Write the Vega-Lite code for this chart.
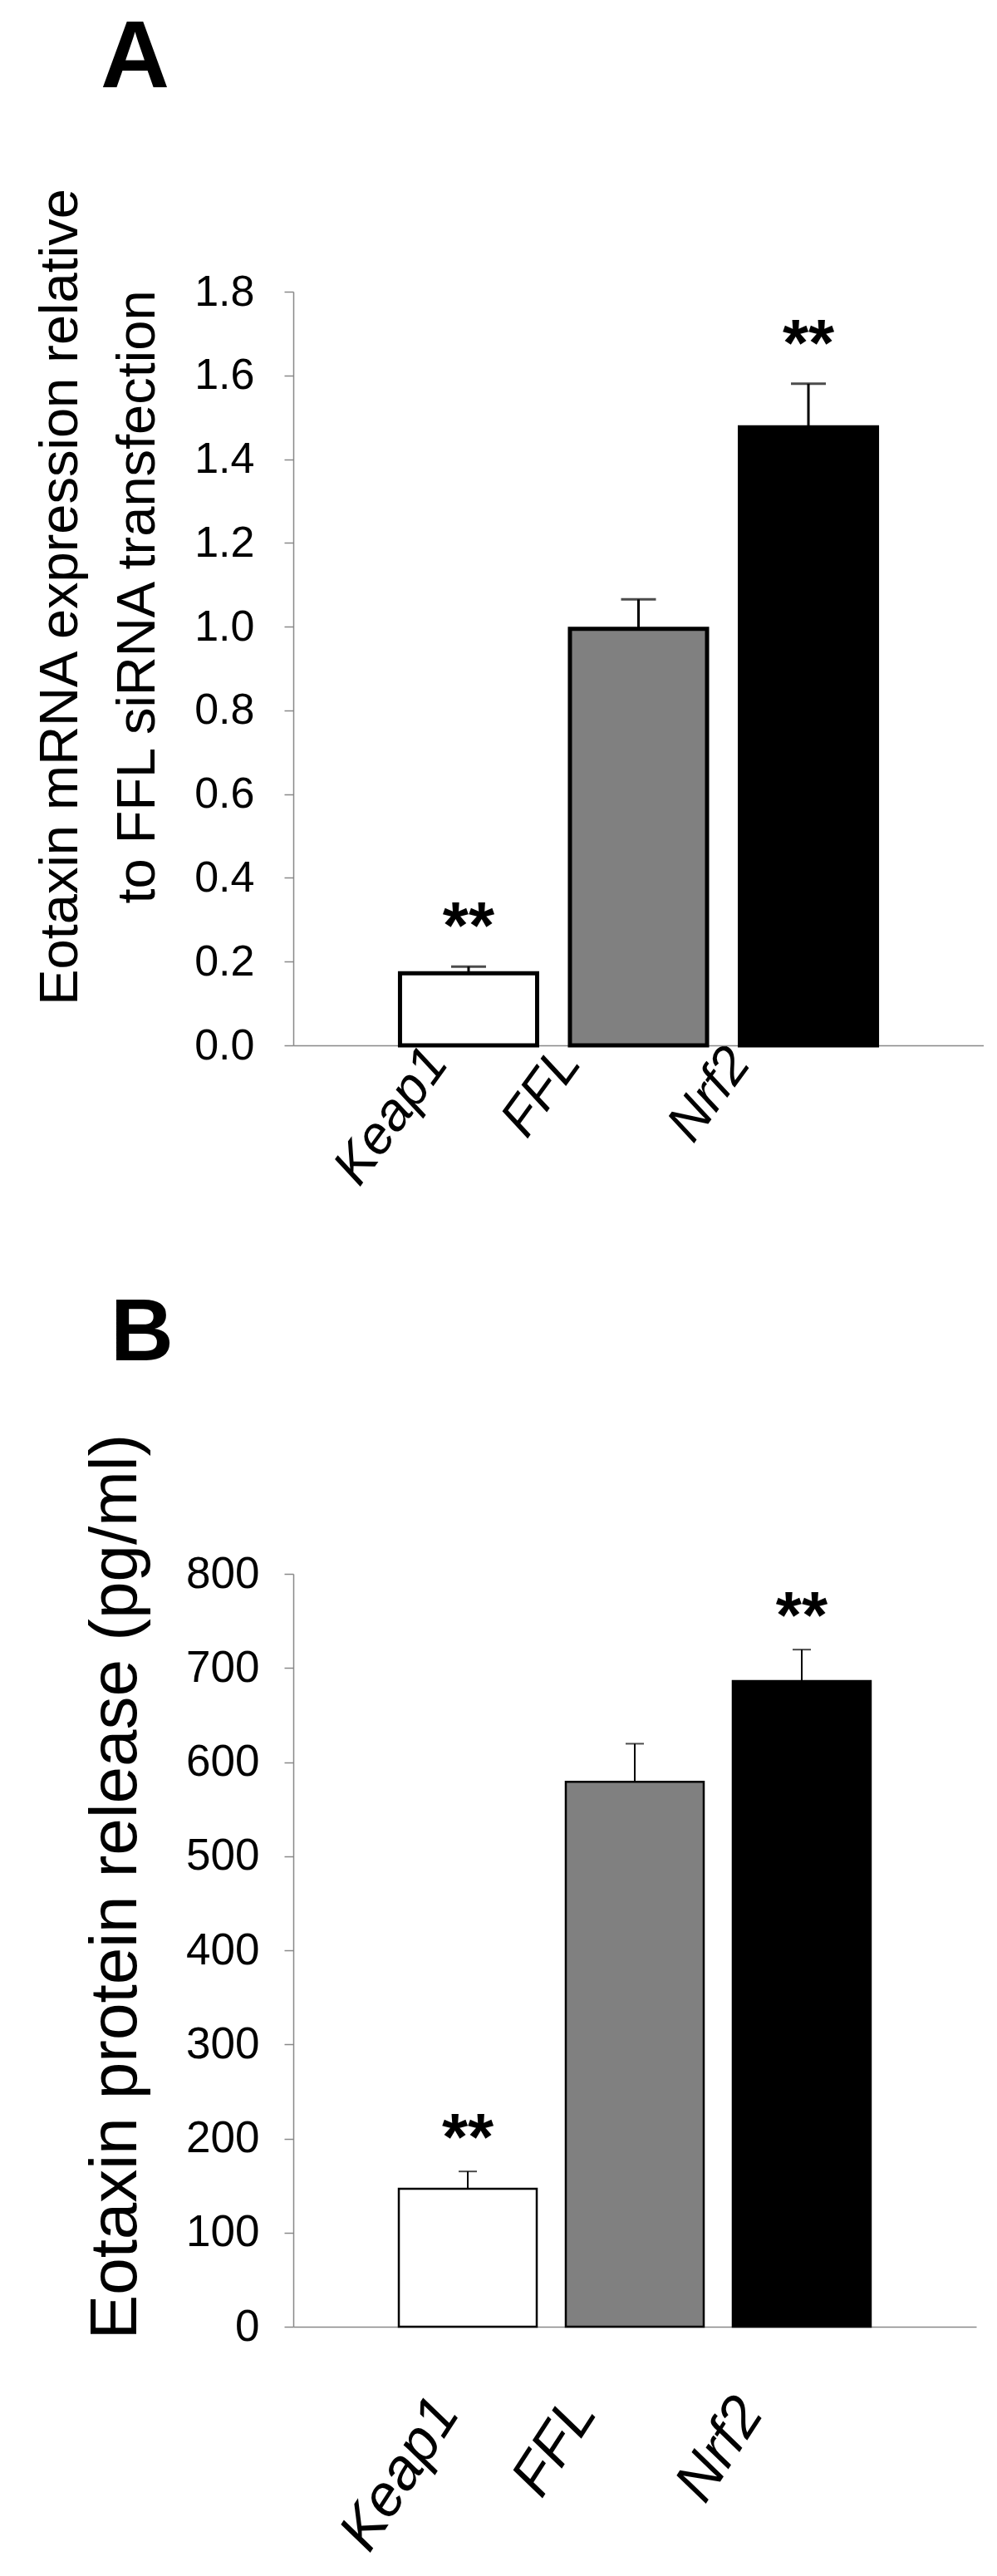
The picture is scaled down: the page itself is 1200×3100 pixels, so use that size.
{
  "$schema": "https://vega.github.io/schema/vega-lite/v6.json",
  "background": "white",
  "padding": {"left": 39, "top": 12, "right": 0, "bottom": 0},
  "autosize": {"type": "pad"},
  "spacing": 116,
  "align": "each",
  "config": {
    "view": {"stroke": null},
    "font": "Liberation Sans",
    "axis": {"grid": false, "domainColor": "#888888", "tickColor": "#888888", "domainWidth": 1.5, "tickWidth": 1.5, "labelColor": "black", "titleColor": "black", "labelFont": "Liberation Sans", "titleFont": "Liberation Sans", "titleFontWeight": "normal", "labelLimit": 0},
    "title": {"font": "Liberation Sans", "color": "black", "fontWeight": "bold"}
  },
  "datasets": {
    "mrna": [
      {"siRNA": "Keap1", "mean": 0.172, "upper": 0.188, "sig": "**"},
      {"siRNA": "FFL", "mean": 0.995, "upper": 1.065, "sig": ""},
      {"siRNA": "Nrf2", "mean": 1.476, "upper": 1.58, "sig": "**"}
    ],
    "protein": [
      {"siRNA": "Keap1", "mean": 146.5, "upper": 165, "sig": "**"},
      {"siRNA": "FFL", "mean": 579, "upper": 619.5, "sig": ""},
      {"siRNA": "Nrf2", "mean": 686, "upper": 719.5, "sig": "**"}
    ]
  },
  "vconcat": [
    {
      "width": 831,
      "height": 907,
      "title": {"text": "A", "anchor": "start", "frame": "group", "fontSize": 115, "dx": -232, "offset": 96},
      "resolve": {"scale": {"x": "independent"}},
      "layer": [
        {
          "data": {"name": "mrna"},
          "encoding": {
            "x": {"field": "siRNA", "type": "nominal", "sort": ["Keap1", "FFL", "Nrf2"],
              "scale": {"paddingInner": 0.193, "paddingOuter": 0.628},
              "axis": {"title": null, "ticks": false, "labelAngle": -54, "labelAlign": "right", "labelBaseline": "middle", "labelFontSize": 64, "labelFontStyle": "italic", "labelPadding": 10,
                "labelOffset": {"condition": {"test": "datum.value === 'Keap1'", "value": -38}, "value": -83}}},
            "y": {"field": "mean", "type": "quantitative", "scale": {"domain": [0, 1.8], "nice": false},
              "axis": {"title": ["Eotaxin mRNA expression relative", "to FFL siRNA transfection"], "values": [0, 0.2, 0.4, 0.6, 0.8, 1.0, 1.2, 1.4, 1.6, 1.8], "format": ".1f", "labelFontSize": 52, "labelPadding": 36, "tickSize": 11, "titleFontSize": 65, "titleX": -261, "titleY": 367, "titleAlign": "center", "titleBaseline": "alphabetic", "titleAngle": -90, "titleLineHeight": 93}}
          },
          "layer": [
            {"mark": {"type": "bar", "stroke": "black", "strokeWidth": 5},
             "encoding": {"fill": {"field": "siRNA", "type": "nominal", "scale": {"domain": ["Keap1", "FFL", "Nrf2"], "range": ["#ffffff", "#808080", "#000000"]}, "legend": null}}},
            {"mark": {"type": "rule", "color": "black", "strokeWidth": 3},
             "encoding": {"y2": {"field": "upper"}}},
            {"mark": {"type": "tick", "color": "black", "thickness": 3, "size": 42},
             "encoding": {"y": {"field": "upper", "type": "quantitative"}}},
            {"mark": {"type": "text", "fontSize": 80, "fontWeight": "bold", "baseline": "alphabetic", "dy": -22, "color": "black"},
             "encoding": {"y": {"field": "upper", "type": "quantitative"}, "text": {"field": "sig"}}}
          ]
        },
        {
          "layer": [
            {"mark": {"type": "rule", "color": "#888888", "strokeWidth": 1.5, "y2Offset": 28},
             "encoding": {"x": {"datum": 0, "type": "quantitative", "scale": {"domain": [0, 1]}, "axis": null}, "y": {"datum": 0, "type": "quantitative"}, "y2": {"datum": 0}}},
            {"mark": {"type": "rule", "color": "#888888", "strokeWidth": 1.5, "y2Offset": 28},
             "encoding": {"x": {"datum": 1, "type": "quantitative", "scale": {"domain": [0, 1]}, "axis": null}, "y": {"datum": 0, "type": "quantitative"}, "y2": {"datum": 0}}}
          ]
        }
      ]
    },
    {
      "width": 822,
      "height": 906,
      "title": {"text": "B", "anchor": "start", "frame": "group", "fontSize": 105, "dx": -220, "offset": 66},
      "resolve": {"scale": {"x": "independent"}},
      "layer": [
        {
          "data": {"name": "protein"},
          "encoding": {
            "x": {"field": "siRNA", "type": "nominal", "sort": ["Keap1", "FFL", "Nrf2"],
              "scale": {"paddingInner": 0.174, "paddingOuter": 0.632},
              "axis": {"title": null, "ticks": false, "labelAngle": -57, "labelAlign": "right", "labelBaseline": "middle", "labelFontSize": 70, "labelFontStyle": "italic", "labelPadding": 92,
                "labelOffset": {"condition": {"test": "datum.value === 'Keap1'", "value": -26}, "value": -62}}},
            "y": {"field": "mean", "type": "quantitative", "scale": {"domain": [0, 800], "nice": false},
              "axis": {"title": "Eotaxin protein release (pg/ml)", "values": [0, 100, 200, 300, 400, 500, 600, 700, 800], "labelFontSize": 53, "labelPadding": 30, "tickSize": 11, "titleFontSize": 80, "titleX": -190, "titleY": 376, "titleAlign": "center", "titleBaseline": "alphabetic", "titleAngle": -90}}
          },
          "layer": [
            {"mark": {"type": "bar", "stroke": "black", "strokeWidth": 2.5},
             "encoding": {"fill": {"field": "siRNA", "type": "nominal", "scale": {"domain": ["Keap1", "FFL", "Nrf2"], "range": ["#ffffff", "#808080", "#000000"]}, "legend": null}}},
            {"mark": {"type": "rule", "color": "black", "strokeWidth": 2},
             "encoding": {"y2": {"field": "upper"}}},
            {"mark": {"type": "tick", "color": "black", "thickness": 2, "size": 22},
             "encoding": {"y": {"field": "upper", "type": "quantitative"}}},
            {"mark": {"type": "text", "fontSize": 80, "fontWeight": "bold", "baseline": "alphabetic", "dy": -14, "color": "black"},
             "encoding": {"y": {"field": "upper", "type": "quantitative"}, "text": {"field": "sig"}}}
          ]
        },
        {
          "layer": [
            {"mark": {"type": "rule", "color": "#888888", "strokeWidth": 1.5, "y2Offset": 28},
             "encoding": {"x": {"datum": 0, "type": "quantitative", "scale": {"domain": [0, 1]}, "axis": null}, "y": {"datum": 0, "type": "quantitative"}, "y2": {"datum": 0}}},
            {"mark": {"type": "rule", "color": "#888888", "strokeWidth": 1.5, "y2Offset": 28},
             "encoding": {"x": {"datum": 1, "type": "quantitative", "scale": {"domain": [0, 1]}, "axis": null}, "y": {"datum": 0, "type": "quantitative"}, "y2": {"datum": 0}}}
          ]
        }
      ]
    }
  ]
}
